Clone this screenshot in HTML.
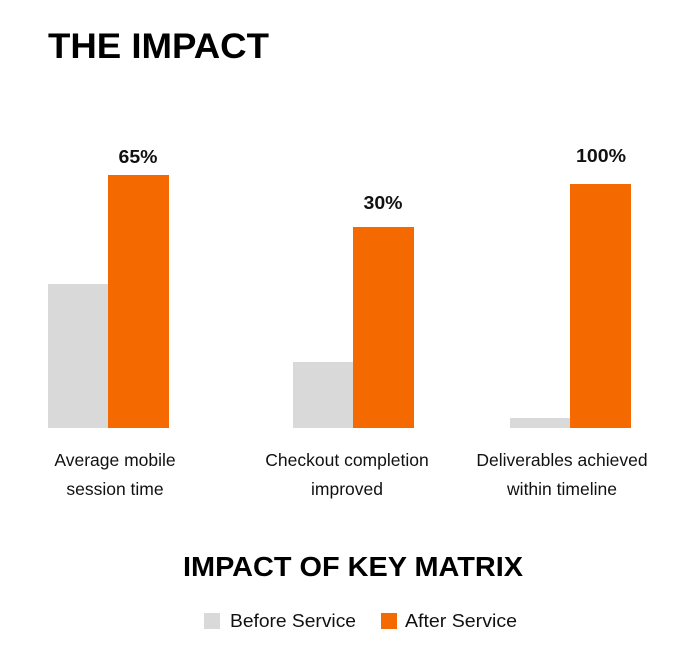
<!DOCTYPE html>
<html><head><meta charset="utf-8"><style>
html,body{margin:0;padding:0;background:#fff;}
svg{display:block;font-family:"Liberation Sans",sans-serif;}
</style></head><body>
<svg width="696" height="647" viewBox="0 0 696 647" xmlns="http://www.w3.org/2000/svg">
<rect width="696" height="647" fill="#fff"/>
<text x="48" y="58" font-size="35" font-weight="bold" fill="#000" textLength="221" lengthAdjust="spacingAndGlyphs">THE IMPACT</text>
<rect x="48" y="284" width="60" height="144" fill="#d9d9d9"/>
<rect x="108" y="175" width="61" height="253" fill="#f56a00"/>
<rect x="293" y="362" width="60" height="66" fill="#d9d9d9"/>
<rect x="353" y="227" width="61" height="201" fill="#f56a00"/>
<rect x="510" y="418" width="60" height="10" fill="#d9d9d9"/>
<rect x="570" y="184" width="61" height="244" fill="#f56a00"/>
<g font-size="18" font-weight="bold" fill="#111" text-anchor="middle">
<text x="138" y="163" textLength="39" lengthAdjust="spacingAndGlyphs">65%</text>
<text x="383" y="209" textLength="39" lengthAdjust="spacingAndGlyphs">30%</text>
<text x="601" y="162" textLength="50" lengthAdjust="spacingAndGlyphs">100%</text>
</g>
<g font-size="17.5" fill="#111" text-anchor="middle">
<text x="115" y="466">Average mobile</text>
<text x="115" y="495">session time</text>
<text x="347" y="466">Checkout completion</text>
<text x="347" y="495">improved</text>
<text x="562" y="466">Deliverables achieved</text>
<text x="562" y="495">within timeline</text>
</g>
<text x="183" y="576" font-size="28" font-weight="bold" fill="#000" textLength="340" lengthAdjust="spacingAndGlyphs">IMPACT OF KEY MATRIX</text>
<rect x="204" y="613" width="16" height="16" fill="#d9d9d9"/>
<text x="230" y="627" font-size="18" fill="#111" textLength="126" lengthAdjust="spacingAndGlyphs">Before Service</text>
<rect x="381" y="613" width="16" height="16" fill="#f56a00"/>
<text x="405" y="627" font-size="18" fill="#111" textLength="112" lengthAdjust="spacingAndGlyphs">After Service</text>
</svg>
</body></html>
